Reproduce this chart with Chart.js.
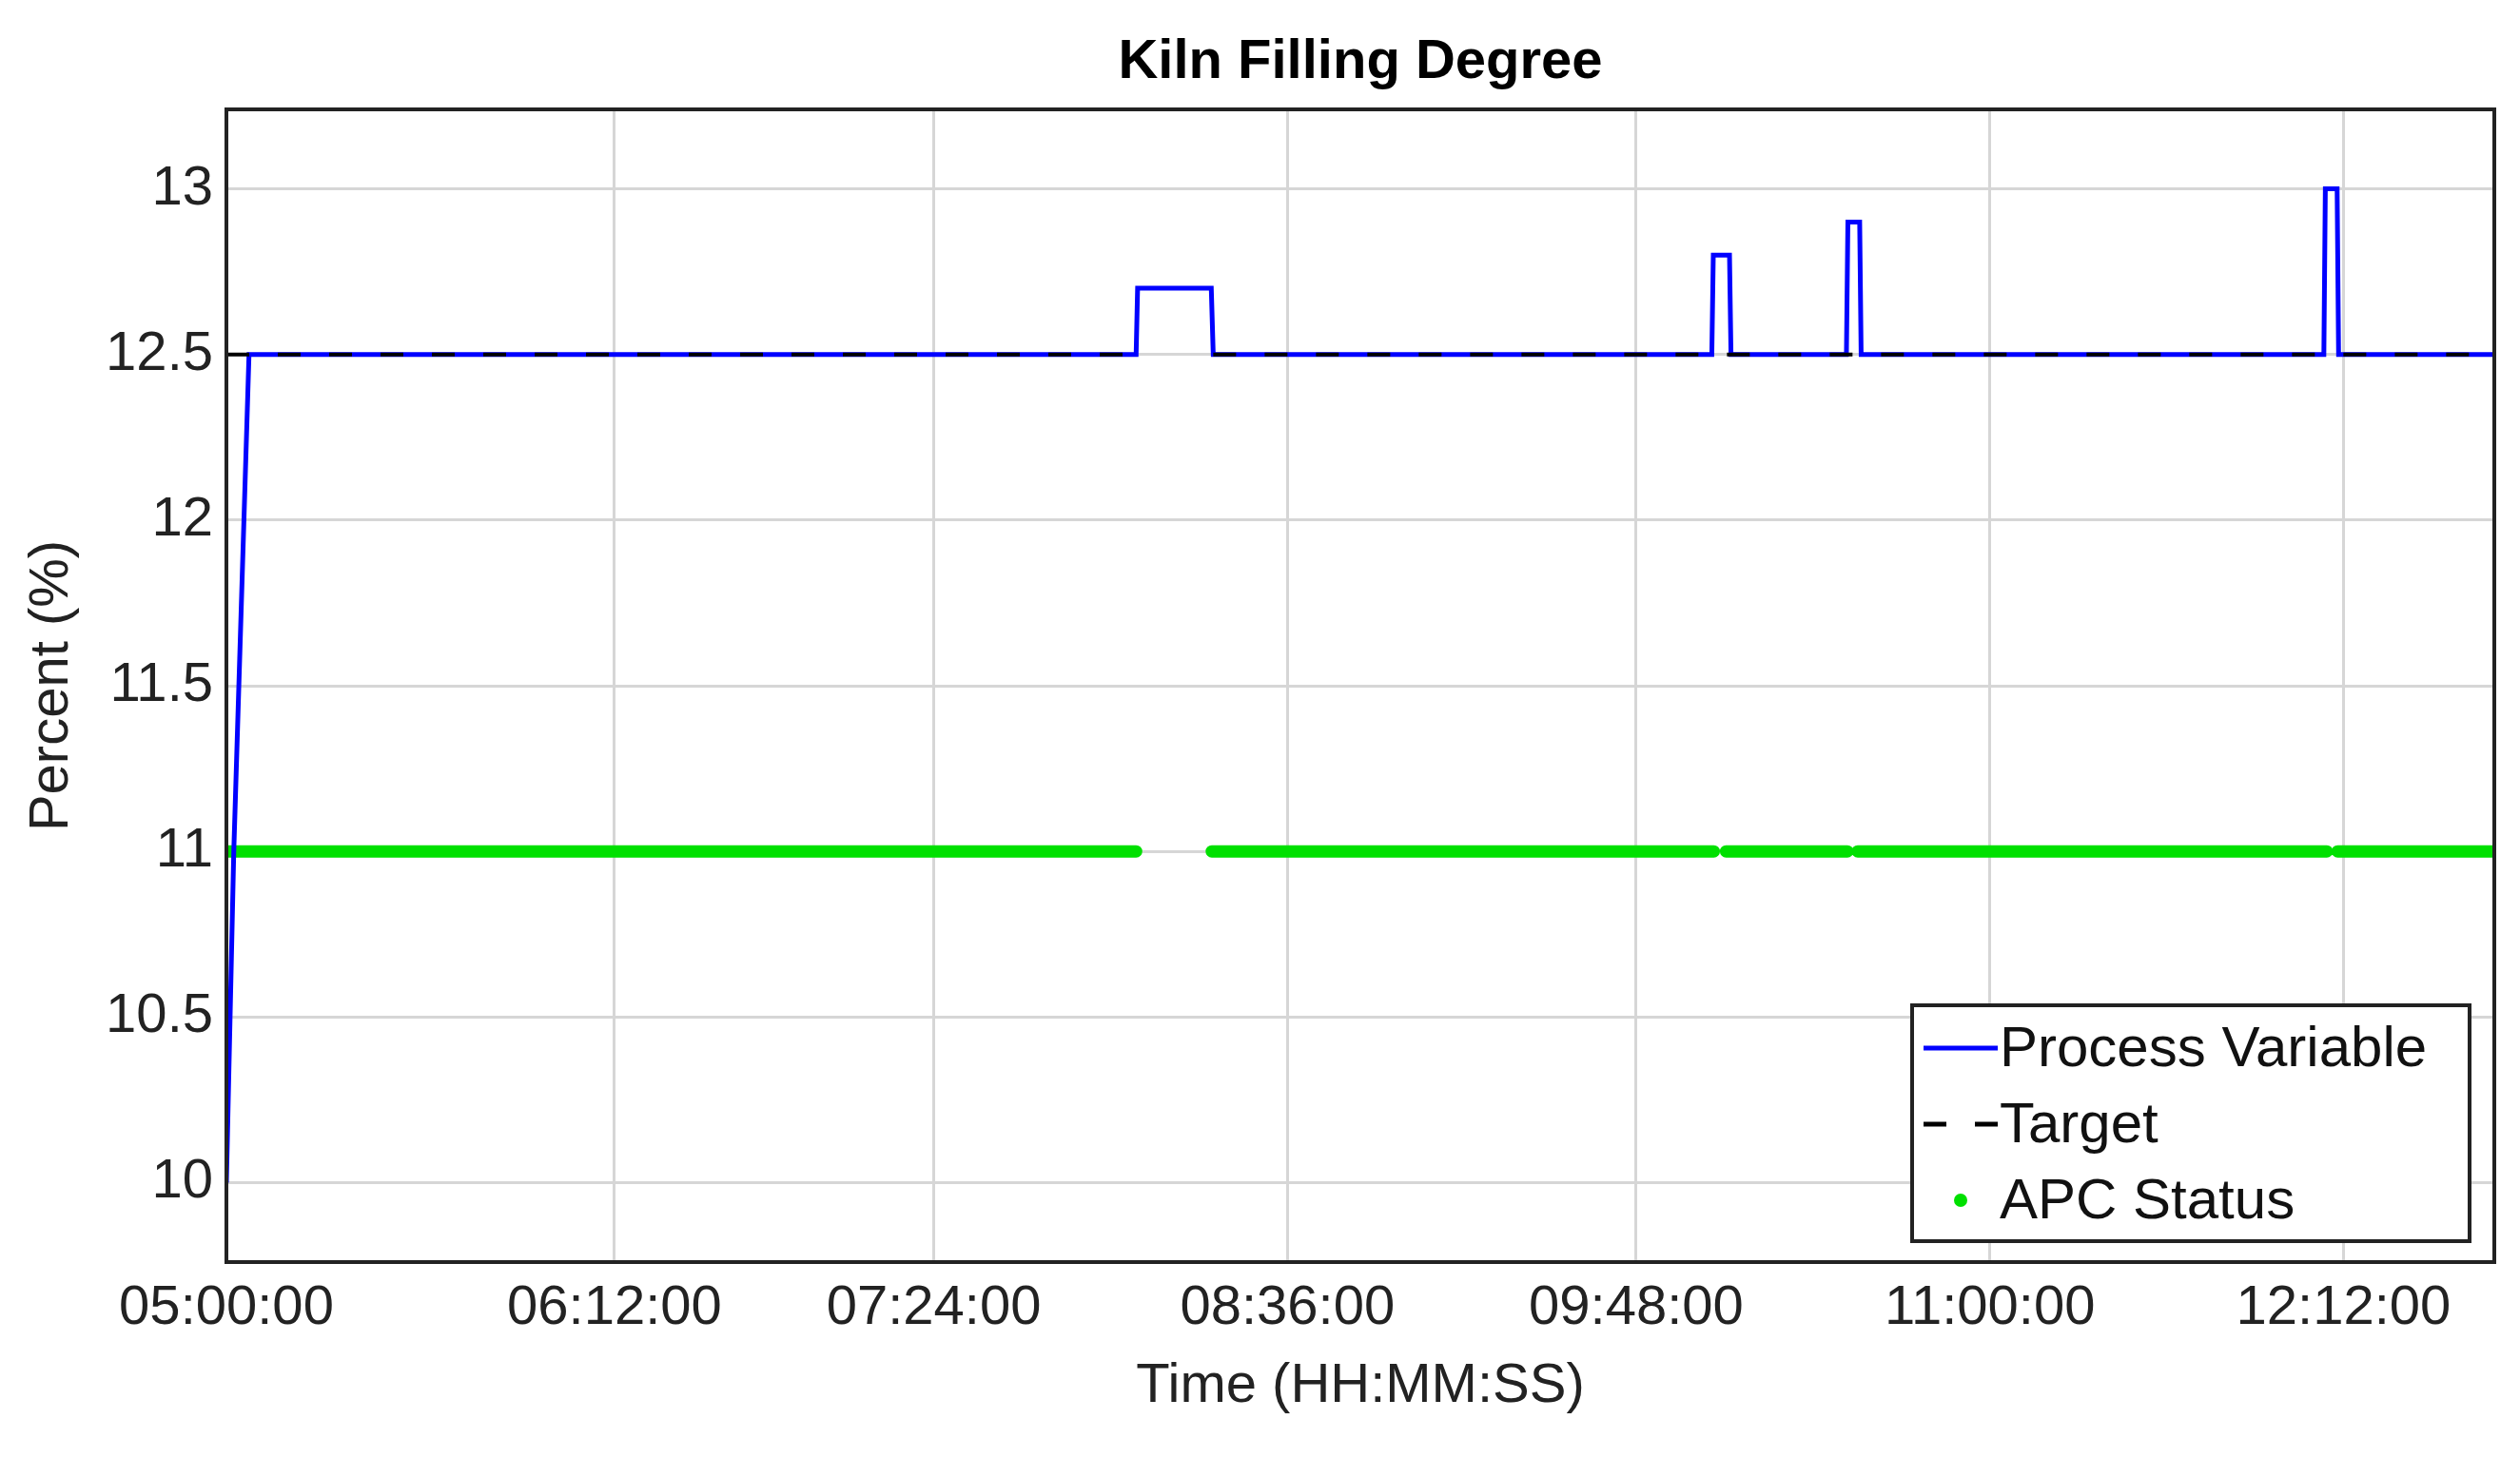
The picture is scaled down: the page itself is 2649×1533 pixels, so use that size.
<!DOCTYPE html>
<html>
<head>
<meta charset="UTF-8">
<title>Kiln Filling Degree</title>
<script src="https://cdn.jsdelivr.net/npm/chart.js"></script>
<style>
  body { margin: 0; background: #fff; }
  #wrap { width: 2649px; height: 1533px; }
</style>
</head>
<body>
<div id="wrap"><canvas id="kiln" width="2649" height="1533"></canvas></div>
<script>
// x values are minutes after 05:00:00
const tickMinutes = [0, 79, 144, 216, 287, 359, 431];
const tickLabels = ["05:00:00", "06:12:00", "07:24:00", "08:36:00", "09:48:00", "11:00:00", "12:12:00"];
const yTicks = [10, 10.5, 11, 11.5, 12, 12.5, 13];
const pvX = [0, 1.5, 4.6, 185.2, 185.5, 200.5, 200.9, 302.4, 302.7, 306.0, 306.3, 329.8, 330.1, 332.5, 332.8, 427.0, 427.3, 429.7, 430.0, 461.7];
const pvY = [10, 11, 12.5, 12.5, 12.7, 12.7, 12.5, 12.5, 12.8, 12.8, 12.5, 12.5, 12.9, 12.9, 12.5, 12.5, 13.0, 13.0, 12.5, 12.5];
const targetX = [0, 185.2, null, 200.9, 461.7];
const targetY = [12.5, 12.5, null, 12.5, 12.5];
const apcX = [0, 185.2, null, 200.6, 302.8, null, 305.3, 330.0, null, 332.1, 427.6, null, 429.8, 461.7];
const apcY = [11, 11, null, 11, 11, null, 11, 11, null, 11, 11, null, 11, 11];

function pts(xs, ys) { return xs.map((x, i) => x === null ? { x: null, y: null } : { x: x, y: ys[i] }); }

const FONT = "Arial, 'Liberation Sans', sans-serif";

const frame = {
  id: "frame",
  afterDraw(chart) {
    const { ctx, chartArea: a } = chart;
    ctx.save();
    ctx.strokeStyle = "#222"; ctx.lineWidth = 4;
    ctx.strokeRect(a.left, a.top, a.right - a.left, a.bottom - a.top);
    ctx.fillStyle = "#000"; ctx.font = "bold 58px " + FONT;
    ctx.textAlign = "center"; ctx.textBaseline = "middle";
    ctx.fillText("Kiln Filling Degree", (a.left + a.right) / 2, 66);
    // legend box
    const bx = 2010, by = 1057, bw = 586, bh = 248;
    ctx.fillStyle = "#fff"; ctx.fillRect(bx, by, bw, bh);
    ctx.lineWidth = 4; ctx.strokeStyle = "#222"; ctx.strokeRect(bx, by, bw, bh);
    ctx.font = "60px " + FONT; ctx.textAlign = "left"; ctx.fillStyle = "#111";
    const rows = [by + 45, by + 125, by + 205];
    ctx.lineWidth = 5; ctx.strokeStyle = "#0000ff";
    ctx.beginPath(); ctx.moveTo(bx + 12, rows[0]); ctx.lineTo(bx + 90, rows[0]); ctx.stroke();
    ctx.strokeStyle = "#000"; ctx.setLineDash([24, 30]);
    ctx.beginPath(); ctx.moveTo(bx + 12, rows[1]); ctx.lineTo(bx + 90, rows[1]); ctx.stroke();
    ctx.setLineDash([]);
    ctx.fillStyle = "#00e000"; ctx.beginPath(); ctx.arc(bx + 51, rows[2], 7, 0, Math.PI * 2); ctx.fill();
    ctx.fillStyle = "#111";
    ctx.fillText("Process Variable", bx + 92, rows[0] + 2);
    ctx.fillText("Target", bx + 92, rows[1] + 2);
    ctx.fillText("APC Status", bx + 92, rows[2] + 2);
    ctx.restore();
  }
};

const tickFont = { size: 58, family: FONT };

new Chart(document.getElementById("kiln"), {
  type: "line",
  data: {
    datasets: [
      { label: "APC Status", data: pts(apcX, apcY), borderColor: "#00e000", borderWidth: 13, borderCapStyle: "round", pointRadius: 0, spanGaps: false, order: 3 },
      { label: "Process Variable", data: pts(pvX, pvY), borderColor: "#0000ff", borderWidth: 5, pointRadius: 0, order: 2 },
      { label: "Target", data: pts(targetX, targetY), borderColor: "#000", borderDash: [24, 30], borderWidth: 4, pointRadius: 0, spanGaps: false, order: 1 }
    ]
  },
  options: {
    responsive: false, animation: false,
    layout: { padding: { top: 115, right: 27, left: 0, bottom: 0 } },
    plugins: { legend: { display: false }, tooltip: { enabled: false } },
    scales: {
      x: {
        type: "linear", min: 0, max: 461.7,
        afterBuildTicks: s => { s.ticks = tickMinutes.map(v => ({ value: v })); },
        afterFit: s => { s.height = 206; },
        ticks: { font: tickFont, color: "#222", maxRotation: 0, autoSkip: false, padding: 14,
          callback: (v, i) => tickLabels[i] },
        grid: { color: "#d6d6d6", lineWidth: 3, drawTicks: false },
        border: { display: false },
        title: { display: true, text: "Time (HH:MM:SS)", font: tickFont, color: "#222", padding: { top: 0, bottom: 40 } }
      },
      y: {
        min: 9.76, max: 13.24,
        afterBuildTicks: s => { s.ticks = yTicks.map(v => ({ value: v })); },
        afterFit: s => { s.width = 238; },
        ticks: { font: tickFont, color: "#222", padding: 14, callback: v => String(v) },
        grid: { color: "#d6d6d6", lineWidth: 3, drawTicks: false },
        border: { display: false },
        title: { display: true, text: "Percent (%)", font: tickFont, color: "#222", padding: { top: 20, bottom: 0 } }
      }
    }
  },
  plugins: [frame]
});
</script>
</body>
</html>
